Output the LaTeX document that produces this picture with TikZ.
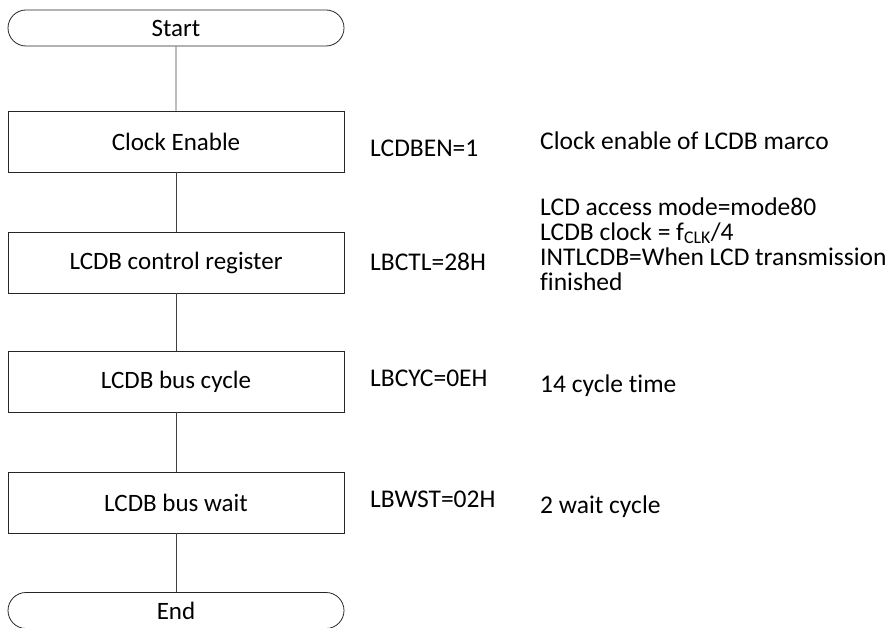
\documentclass[tikz,border=0pt]{standalone}
\usepackage{fontspec}
\setmainfont{Carlito}[Ligatures=NoCommon]
\usetikzlibrary{shapes.misc}
\begin{document}
\begin{tikzpicture}[x=1pt,y=-1pt,
  procbox/.style={draw=black!85, line width=0.8pt, minimum width=336pt, minimum height=61pt, inner sep=0pt, font=\fontsize{25}{23}\selectfont},
  termbox/.style={draw=black!85, line width=0.8pt, rounded rectangle, minimum width=336pt, minimum height=36pt, inner sep=0pt, font=\fontsize{25}{23}\selectfont},
  note/.style={anchor=base west, inner sep=0pt, font=\fontsize{25.5}{25}\selectfont, align=left},
  link/.style={draw=black!75, line width=0.7pt}]
\useasboundingbox (0,0) rectangle (893,628);
\node[termbox] (start) at (176,28) {Start};
\node[procbox] (clk) at (176,141.5) {Clock Enable};
\node[procbox] (ctl) at (176,262.5) {LCDB control register};
\node[procbox] (cyc) at (176,381.5) {LCDB bus cycle};
\node[procbox] (wst) at (176,502.5) {LCDB bus wait};
\node[termbox] (end) at (176,610.5) {End};
\draw[link] (start) -- (clk);
\draw[link] (clk) -- (ctl);
\draw[link] (ctl) -- (cyc);
\draw[link] (cyc) -- (wst);
\draw[link] (wst) -- (end);
\node[note] (r1) at (370,157) {LCDBEN=1};
\node[note] (d1) at (540,150) {Clock enable of LCDB marco};
\node[note] (r2) at (370,270) {LBCTL=28H};
\node[note] (d2) at (540,290) {LCD access mode=mode80\\LCDB clock = f\textsubscript{CLK}/4\\INTLCDB=When LCD transmission\\finished};
\node[note] (r3) at (370,386) {LBCYC=0EH};
\node[note] (d3) at (540,392) {14 cycle time};
\node[note] (r4) at (370,507) {LBWST=02H};
\node[note] (d4) at (540,513) {2 wait cycle};
\end{tikzpicture}
\end{document}
